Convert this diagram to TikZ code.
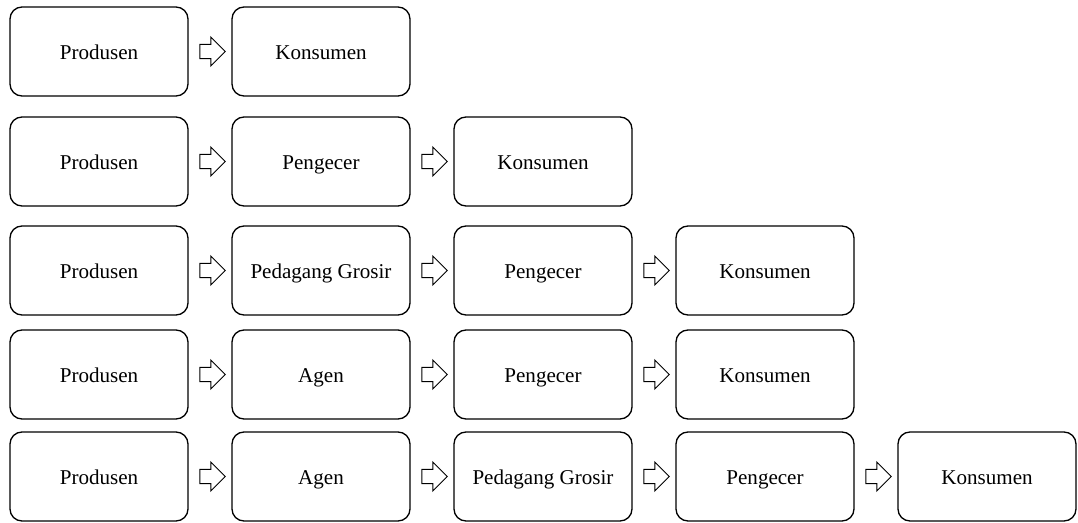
\documentclass[tikz,border=0pt]{standalone}
\usepackage{fontspec}
\setmainfont{Liberation Serif}
\usetikzlibrary{shapes.arrows}
\tikzset{stage/.style={draw, line width=1pt, rounded corners=9pt,
   minimum width=133.5pt, minimum height=66.75pt, inner sep=0pt,
   text height=13pt, text depth=1pt,
   font=\fontsize{15.8}{19}\selectfont},
 flow/.style={single arrow, draw, line width=0.75pt, inner sep=0pt,
   minimum height=19pt, single arrow head extend=5.5pt,
   text width=0pt, text height=5pt, text depth=5pt},
 }

\begin{document}
\begin{tikzpicture}[x=0.75pt, y=-0.75pt]
        \useasboundingbox (0,0) rectangle (1078,522);
        \foreach \row/\y/\names in {1/51.5/{Produsen,Konsumen},
                                    2/161.5/{Produsen,Pengecer,Konsumen},
                                    3/270.5/{Produsen,Pedagang Grosir,Pengecer,Konsumen},
                                    4/374.5/{Produsen,Agen,Pengecer,Konsumen},
                                    5/476.5/{Produsen,Agen,Pedagang Grosir,Pengecer,Konsumen}} {
            \foreach \name [count=\c] in \names {
                \node[stage] (r\row c\c) at ({99+222*(\c-1)}, \y) {\name};
                \ifnum\c>1
                    \node[flow] (a\row c\c) at ({99+222*(\c-1)-112}, \y) {};
                \fi
            }
        }
    \end{tikzpicture}
\end{document}
